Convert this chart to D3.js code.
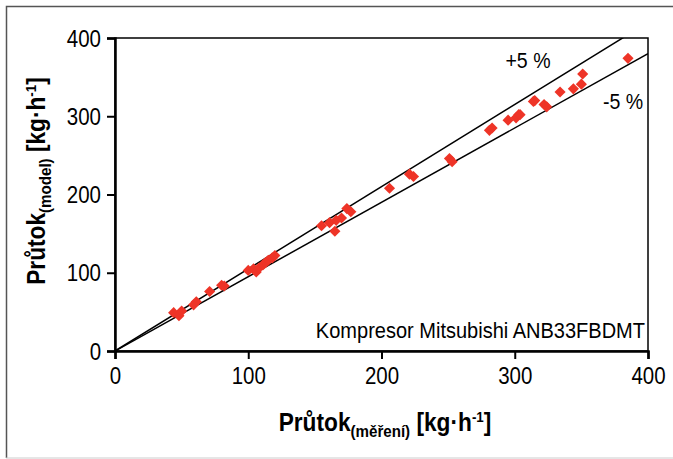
<!DOCTYPE html>
<html>
<head>
<meta charset="utf-8">
<script src="https://cdn.jsdelivr.net/npm/d3@7"></script>
<style>
  body { margin: 0; background: #fff; }
  svg text { font-family: "Liberation Sans", Arial, sans-serif; }
</style>
</head>
<body>
<svg id="chart" width="673" height="459"></svg>
<script>
  "use strict";

  // measured flow [kg/h]
  var measured = [44, 48, 50, 59, 61, 71, 80, 82, 100, 104, 106, 108, 111, 113, 115, 118, 120,
    155, 161, 165, 166, 170, 174, 177, 206, 221, 224, 251, 253, 281, 283, 295, 301, 303,
    304, 314, 315, 322, 324, 334, 344, 350, 351, 385];
  // model flow [kg/h]
  var model = [49, 45, 51, 59, 63, 76, 84, 83, 103, 105, 101, 106, 110, 113, 116, 119, 122,
    160, 164, 153, 167, 170, 182, 178, 208, 226, 223, 246, 242, 282, 285, 295, 298, 302,
    302, 319, 320, 315, 312, 331, 335, 341, 354, 374];
  var tickValues = [0, 100, 200, 300, 400];
  var bands = [{ k: 1.05, label: "+5 %" }, { k: 0.95, label: "-5 %" }];
  var note = "Kompresor Mitsubishi ANB33FBDMT";

  var SX = 0.89; // narrow look of the original font

  var svg = d3.select("#chart");
  var m = { left: 115, right: 648, top: 38, bottom: 351 };

  var x = d3.scaleLinear().domain([0, 400]).range([m.left, m.right]);
  var y = d3.scaleLinear().domain([0, 400]).range([m.bottom, m.top]);

  // outer frame
  svg.append("path").attr("d", "M6.5,458 V6.5 H673")
    .attr("fill", "none").attr("stroke", "#555").attr("stroke-width", 1.5);
  svg.append("line").attr("x1", 6).attr("x2", 673).attr("y1", 458).attr("y2", 458)
    .attr("stroke", "#ccc");

  svg.append("clipPath").attr("id", "clip").append("rect")
    .attr("x", m.left).attr("y", m.top)
    .attr("width", m.right - m.left).attr("height", m.bottom - m.top);

  // +/- 5 % lines
  svg.append("g").attr("clip-path", "url(#clip)")
    .selectAll("line").data(bands).enter().append("line")
    .attr("x1", x(0)).attr("y1", y(0))
    .attr("x2", x(400)).attr("y2", (d) => y(400 * d.k))
    .attr("stroke", "#000").attr("stroke-width", 1.5);

  // points
  var pts = measured.map((v, i) => ({ mx: v, my: model[i] }));
  svg.append("g").selectAll("path").data(pts).enter().append("path")
    .attr("d", d3.symbol(d3.symbolSquare, 62))
    .attr("transform", (d) => "translate(" + x(d.mx) + "," + y(d.my) + ") rotate(45)")
    .attr("fill", "#ee3427");

  // plot box
  svg.append("rect").attr("x", m.left).attr("y", m.top)
    .attr("width", m.right - m.left).attr("height", m.bottom - m.top)
    .attr("fill", "none").attr("stroke", "#000").attr("stroke-width", 1.5);

  var xAxis = svg.append("g").attr("transform", "translate(0," + m.bottom + ")")
    .call(d3.axisBottom(x).tickValues(tickValues).tickSize(8).tickPadding(9).tickFormat(d3.format("d")));
  var yAxis = svg.append("g").attr("transform", "translate(" + m.left + ",0)")
    .call(d3.axisLeft(y).tickValues(tickValues).tickSize(8).tickPadding(6).tickFormat(d3.format("d")));
  [xAxis, yAxis].forEach((a) => {
    a.select(".domain").attr("stroke-width", 2.5);
    a.selectAll(".tick line").attr("stroke-width", 2);
    a.selectAll("text").attr("font-size", 23).attr("fill", "#000")
      .attr("font-family", null)
      .attr("transform", "scale(" + SX + ",1)");
  });
  yAxis.selectAll("text").attr("dy", "0.35em").attr("x", -14 / SX);

  // text placed at (px,py), squeezed horizontally
  function label(px, py, rot) {
    return svg.append("text")
      .attr("transform", "translate(" + px + "," + py + ")" + (rot ? " rotate(" + rot + ")" : "") +
        " scale(" + SX + ",1)");
  }

  // band labels
  bands.forEach((d, i) => {
    label(i === 0 ? 528 : 623, i === 0 ? 68 : 109)
      .attr("text-anchor", "middle").attr("font-size", 22)
      .text(d.label);
  });

  label(645, 338).attr("text-anchor", "end").attr("font-size", 22.5).text(note);

  // axis titles
  function title(t, sub) {
    t.attr("text-anchor", "middle").attr("font-size", 25.5).attr("font-weight", "bold");
    t.append("tspan").text("Průtok");
    t.append("tspan").attr("font-size", 17).attr("dy", 6).text(sub);
    t.append("tspan").attr("dy", -6).text(" [kg·h");
    t.append("tspan").attr("font-size", 15).attr("dy", -9).text("-1");
    t.append("tspan").attr("dy", 9).text("]");
  }
  title(label(385, 431), "(měření)");
  title(label(45, 181, -90), "(model)");
</script>
</body>
</html>
